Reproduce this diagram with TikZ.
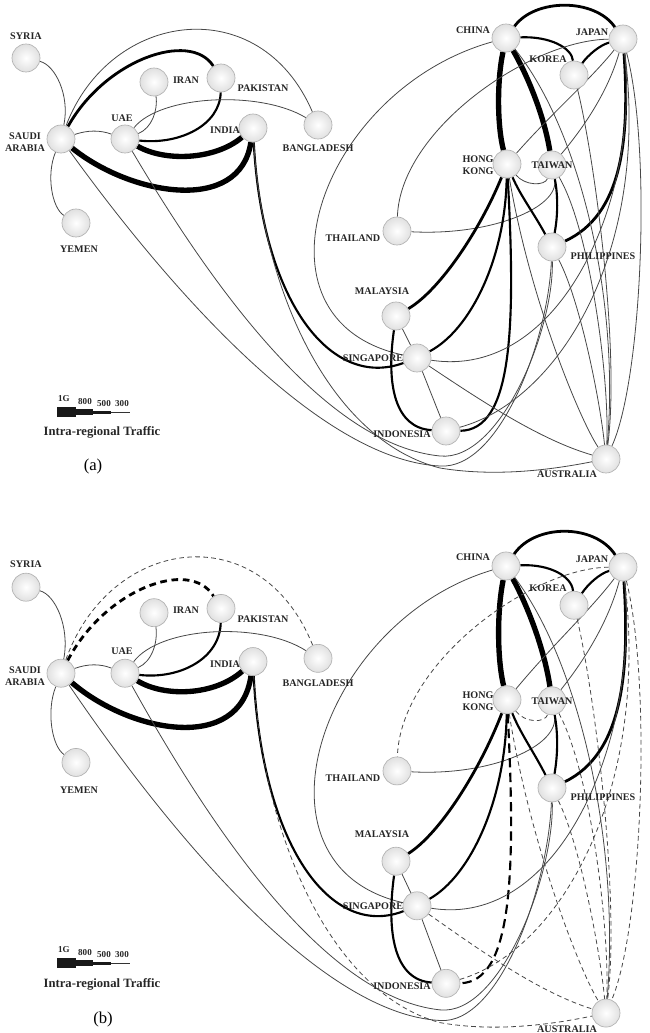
\documentclass[tikz,border=0pt]{standalone}
\usepackage{fontspec}
\setmainfont{Liberation Serif}
\pgfdeclarelayer{bg}
\pgfsetlayers{bg,main}
\tikzset{
 cty/.style={circle, minimum size=21pt, inner sep=0pt, draw=black!30, line width=0.5pt, inner color=white, outer color=black!12},
 lbl/.style={font=\fontsize{7.6}{8.8}\selectfont\bfseries, text=black!85, inner sep=0pt, align=center},
 lgn/.style={font=\fontsize{6.8}{7}\selectfont\bfseries, text=black!85, inner sep=0pt},
 lgt/.style={font=\fontsize{9.5}{10}\selectfont\bfseries, text=black!85, inner sep=0pt},
 capt/.style={font=\fontsize{12.5}{14}\selectfont, inner sep=0pt},
 lthin/.style={line width=0.6pt, draw=black!72},
 lmedl/.style={line width=1.6pt, draw=black},
 lmed/.style={line width=2.1pt, draw=black},
 lthick/.style={line width=4pt, draw=black},
}
\newcommand\drawpanel[1]{%
 \node[cty] (#1-syria) at (26,58) {};
 \node[cty] (#1-saudi) at (61,139) {};
 \node[cty] (#1-yemen) at (76,223) {};
 \node[cty] (#1-iran) at (154,82) {};
 \node[cty] (#1-pak) at (221,78) {};
 \node[cty] (#1-uae) at (125,139) {};
 \node[cty] (#1-india) at (253,128) {};
 \node[cty] (#1-bang) at (318,125) {};
 \node[cty] (#1-china) at (506,38) {};
 \node[cty] (#1-japan) at (623,39) {};
 \node[cty] (#1-korea) at (574,75) {};
 \node[cty] (#1-hk) at (507,164) {};
 \node[cty] (#1-taiwan) at (552,165) {};
 \node[cty] (#1-thai) at (397,231) {};
 \node[cty] (#1-phil) at (552,247) {};
 \node[cty] (#1-malay) at (396,316) {};
 \node[cty] (#1-sing) at (417,358) {};
 \node[cty] (#1-indo) at (446,431) {};
 \node[cty] (#1-aus) at (606,459) {};
 \node[lbl] (#1-lsyria) at (26,36) {SYRIA};
 \node[lbl] (#1-lsaudi) at (25,142) {SAUDI\\ARABIA};
 \node[lbl] (#1-lyemen) at (79,249) {YEMEN};
 \node[lbl] (#1-liran) at (186,80) {IRAN};
 \node[lbl] (#1-lpak) at (263,88) {PAKISTAN};
 \node[lbl] (#1-luae) at (122,118) {UAE};
 \node[lbl] (#1-lindia) at (225,130) {INDIA};
 \node[lbl] (#1-lbang) at (318,148) {BANGLADESH};
 \node[lbl] (#1-lchina) at (473,30) {CHINA};
 \node[lbl] (#1-ljapan) at (592,32) {JAPAN};
 \node[lbl] (#1-lkorea) at (548,59) {KOREA};
 \node[lbl] (#1-lhk) at (478,165) {HONG\\KONG};
 \node[lbl] (#1-ltaiwan) at (552,165) {TAIWAN};
 \node[lbl] (#1-lthai) at (353,238) {THAILAND};
 \node[lbl] (#1-lphil) at (603,256) {PHILIPPINES};
 \node[lbl] (#1-lmalay) at (382,291) {MALAYSIA};
 \node[lbl] (#1-lsing) at (373,358) {SINGAPORE};
 \node[lbl] (#1-lindo) at (402,434) {INDONESIA};
 \node[lbl] (#1-laus) at (567,474) {AUSTRALIA};
 \node[lgn] (#1-g1) at (64,399) {1G};
 \node[lgn] (#1-g2) at (85,402) {800};
 \node[lgn] (#1-g3) at (104,404) {500};
 \node[lgn] (#1-g4) at (122,404) {300};
 \fill[black!90] (57,407) rectangle (76,417);
 \fill[black!90] (76,409) rectangle (93,415);
 \fill[black!90] (93,410.5) rectangle (111,413.5);
 \draw[black!80, line width=0.6pt] (111,412) -- (130,412);
 \node[lgt] (#1-lgt) at (102,432) {Intra-regional Traffic};
 \begin{pgfonlayer}{bg}
 \draw[lthin] (#1-syria) .. controls (55,65) and (70,95) .. (#1-saudi);
 \draw[lthin] (#1-saudi) .. controls (46,175) and (52,208) .. (#1-yemen);
 \draw[lthin] (#1-saudi) .. controls (88,130) and (100,130) .. (#1-uae);
 \draw[lmed,cmed] (#1-saudi) .. controls (105,60) and (190,30) .. (#1-pak);
 \draw[lthin,cthin] (#1-saudi) .. controls (110,10) and (260,-10) .. (#1-bang);
 \draw[lthick] (#1-saudi) .. controls (130,195) and (240,215) .. (#1-india);
 \draw[lthick] (#1-uae) .. controls (165,162) and (215,160) .. (#1-india);
 \draw[lmedl] (#1-uae) .. controls (180,145) and (220,125) .. (#1-pak);
 \draw[lthin] (#1-uae) .. controls (152,128) and (158,110) .. (#1-iran);
 \draw[lthin] (#1-uae) .. controls (160,95) and (260,90) .. (#1-bang);
 \draw[lmedl] (#1-india) .. controls (262,300) and (330,390) .. (#1-sing);
 \draw[lthin,cthin] (#1-india) .. controls (262,290) and (330,440) .. (440,468) .. controls (500,478) and (560,468) .. (#1-aus);
 \draw[lthin] (#1-saudi) .. controls (170,290) and (320,460) .. (440,466) .. controls (500,470) and (548,340) .. (#1-phil);
 \draw[lthin] (#1-uae) .. controls (220,300) and (330,445) .. (440,456) .. controls (500,462) and (554,330) .. (#1-phil);
 \draw[lmed] (#1-china) .. controls (535,-2) and (595,-2) .. (#1-japan);
 \draw[lmedl] (#1-china) .. controls (550,36) and (572,48) .. (#1-korea);
 \draw[lmedl] (#1-korea) .. controls (588,55) and (600,45) .. (#1-japan);
 \draw[lthick] (#1-china) .. controls (497,80) and (497,125) .. (#1-hk);
 \draw[lthick] (#1-china) .. controls (530,80) and (545,120) .. (#1-taiwan);
 \draw[lmed] (#1-japan) .. controls (630,140) and (622,215) .. (#1-phil);
 \draw[lthin,cthin] (#1-japan) .. controls (530,40) and (400,130) .. (#1-thai);
 \draw[lthin] (#1-china) .. controls (320,90) and (240,320) .. (#1-sing);
 \draw[lthin] (#1-thai) .. controls (490,236) and (560,208) .. (#1-taiwan);
 \draw[lthin] (#1-hk) .. controls (550,115) and (590,80) .. (#1-japan);
 \draw[lthin] (#1-taiwan) .. controls (590,120) and (610,85) .. (#1-japan);
 \draw[lthin,cthin] (#1-hk) .. controls (525,186) and (545,186) .. (#1-taiwan);
 \draw[lmedl] (#1-hk) .. controls (520,195) and (535,215) .. (#1-phil);
 \draw[lmedl] (#1-taiwan) .. controls (558,195) and (558,215) .. (#1-phil);
 \draw[lmed] (#1-hk) .. controls (480,230) and (440,290) .. (#1-malay);
 \draw[lmedl] (#1-hk) .. controls (505,260) and (470,330) .. (#1-sing);
 \draw[lmedl,cthick] (#1-hk) .. controls (516,330) and (512,430) .. (#1-indo);
 \draw[lthin,cthin] (#1-hk) .. controls (530,300) and (580,420) .. (#1-aus);
 \draw[lthin,cthin] (#1-phil) .. controls (580,300) and (600,400) .. (#1-aus);
 \draw[lthin] (#1-sing) .. controls (560,380) and (640,200) .. (#1-japan);
 \draw[lthin,cthin] (#1-sing) .. controls (480,400) and (540,440) .. (#1-aus);
 \draw[lthin] (#1-sing) -- (#1-indo);
 \draw[lthin] (#1-malay) -- (#1-sing);
 \draw[lmedl] (#1-malay) .. controls (386,385) and (395,428) .. (#1-indo);
 \draw[lthin,cthin] (#1-indo) .. controls (560,400) and (650,250) .. (#1-japan);
 \draw[lthin] (#1-china) .. controls (580,130) and (620,300) .. (#1-aus);
 \draw[lthin,cthin] (#1-korea) .. controls (595,160) and (620,350) .. (#1-aus);
 \draw[lthin,cthin] (#1-japan) .. controls (652,150) and (642,380) .. (#1-aus);
 \draw[lthin,cthin] (#1-taiwan) .. controls (590,230) and (610,380) .. (#1-aus);
 \end{pgfonlayer}
}
\begin{document}
\begin{tikzpicture}[x=0.75pt,y=-0.75pt]
\useasboundingbox (0,0) rectangle (650,1033);
\begin{scope}[cthin/.style={}, cmed/.style={}, cthick/.style={}]
 \drawpanel{a}
 \node[capt] (a-cap) at (93,466) {(a)};
\end{scope}
\begin{scope}[shift={(0,525.6)}, yscale=1.062,
  cthin/.style={dash pattern=on 3.5pt off 2.5pt},
  cmed/.style={dash pattern=on 5pt off 3.5pt},
  cthick/.style={dash pattern=on 7pt off 4pt}]
 \drawpanel{b}
 \node[capt] (b-cap) at (103,465.5) {(b)};
\end{scope}
\end{tikzpicture}
\end{document}
